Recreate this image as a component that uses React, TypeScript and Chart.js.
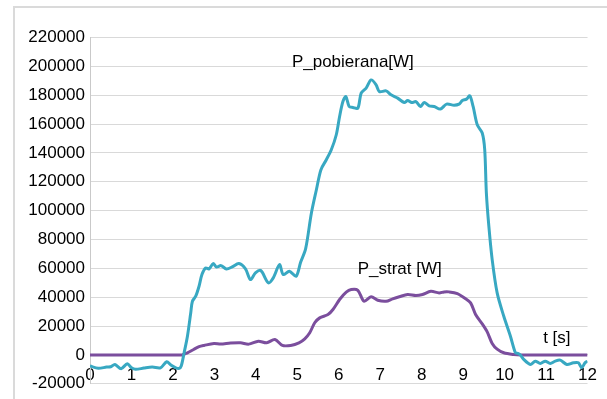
import React, { useEffect, useRef } from "react";
import { Chart, registerables } from "chart.js";

Chart.register(...registerables);

// P_pobierana[W] (teal) : time [s] and power [W]
const pobT = [
  0.0, 0.2, 0.4, 0.5, 0.6, 0.75, 0.9, 1.0, 1.1, 1.3, 1.5, 1.7, 1.85, 1.95, 2.07, 2.15, 2.2,
  2.27, 2.35, 2.43, 2.47, 2.55, 2.63, 2.7, 2.79, 2.87, 2.97, 3.05, 3.16, 3.29, 3.43, 3.59,
  3.75, 3.87, 3.99, 4.12, 4.3, 4.42, 4.57, 4.66, 4.81, 4.97, 5.08, 5.2, 5.34, 5.46, 5.57,
  5.7, 5.82, 5.94, 6.02, 6.1, 6.17, 6.25, 6.34, 6.46, 6.54, 6.66, 6.78, 6.9, 6.98, 7.14,
  7.26, 7.42, 7.58, 7.66, 7.76, 7.86, 7.97, 8.06, 8.18, 8.3, 8.45, 8.6, 8.78, 8.9, 8.98,
  9.08, 9.16, 9.24, 9.34, 9.46, 9.52, 9.56, 9.62, 9.7, 9.82, 9.98, 10.14, 10.26, 10.32,
  10.38, 10.46, 10.62, 10.74, 10.86, 10.98, 11.1, 11.22, 11.34, 11.5, 11.66, 11.78, 11.86,
  11.94, 12.0,
];
const pobV = [
  -7700, -9300, -8400, -8200, -6600, -9500, -6100, -8900, -10000, -9100, -8400, -8900, -4700,
  -7000, -8900, -9300, -7700, 1500, 13000, 29200, 37200, 40700, 47600, 55700, 60300, 59600,
  63300, 61000, 61900, 59600, 61000, 63300, 59600, 52200, 56900, 58500, 50000, 53400, 62600,
  55700, 58000, 54500, 64300, 73500, 98400, 114500, 128400, 135300, 142200, 152600, 165300,
  175600, 179100, 172200, 171500, 171000, 181400, 184900, 190600, 187200, 182500, 183000,
  180300, 178000, 174900, 176300, 174900, 175600, 172200, 174900, 172600, 172200, 170400,
  173800, 173100, 173800, 176300, 177300, 179600, 172200, 159500, 153800, 142200, 112200,
  89100, 66100, 43000, 26800, 13000, 1500, 1000, 0, -3100, -6600, -4300, -5900, -4300, -5900,
  -4300, -3600, -6600, -5400, -5400, -8900, -5400, -4300,
];

// P_strat [W] (purple) : time [s] and power [W]
const stratT = [
  0.0, 1.0, 2.0, 2.22, 2.35, 2.5, 2.63, 2.75, 2.99, 3.15, 3.39, 3.63, 3.83, 4.06, 4.26, 4.46,
  4.64, 4.84, 5.04, 5.18, 5.3, 5.42, 5.54, 5.74, 5.86, 6.02, 6.18, 6.3, 6.46, 6.61, 6.78,
  6.94, 7.14, 7.3, 7.46, 7.66, 7.86, 8.02, 8.22, 8.42, 8.54, 8.66, 8.86, 9.06, 9.18, 9.3,
  9.46, 9.58, 9.7, 9.82, 9.98, 10.22, 10.4, 11.0, 12.0,
];
const stratV = [
  0, 0, 0, 0, 1500, 3800, 5700, 6600, 8000, 7500, 8200, 8400, 7500, 9500, 8400, 10700, 6600,
  6600, 8400, 11200, 15400, 22300, 25700, 28000, 31500, 38400, 43500, 45300, 44800, 37200,
  40300, 37900, 37200, 38900, 40300, 41900, 41200, 41900, 44100, 43000, 43700, 43700, 42500,
  38900, 36100, 28000, 21500, 16000, 8000, 4000, 1500, 300, 0, 0, 0,
];

const xMin = 0;
const xMax = 12;
const xStep = 1;
const yMin = -20000;
const yMax = 220000;
const yStep = 20000;

const TEAL = "#38a8c2";
const PURPLE = "#7b4e9d";
const GRID = "#d9d9d9";

// text labels anchored in data coordinates
const notes = [
  { text: "P_pobierana[W]", x: 6.34, y: 202800 },
  { text: "P_strat [W]", x: 7.47, y: 59200 },
  { text: "t [s]", x: 11.26, y: 11400 },
];

const notesPlugin = {
  id: "notes",
  afterDatasetsDraw(chart: any) {
    const { ctx, scales } = chart;
    ctx.save();
    ctx.font = "17px 'Liberation Sans', Arial, sans-serif";
    ctx.fillStyle = "#000";
    ctx.textAlign = "center";
    ctx.textBaseline = "middle";
    for (const n of notes) {
      ctx.fillText(n.text, scales.x.getPixelForValue(n.x), scales.y.getPixelForValue(n.y));
    }
    ctx.restore();
  },
};

export default function App() {
  const ref = useRef<HTMLCanvasElement>(null);

  useEffect(() => {
    Chart.defaults.font.family = "'Liberation Sans', Arial, sans-serif";
    Chart.defaults.font.size = 17;
    Chart.defaults.color = "#000";
    const chart = new Chart(ref.current as HTMLCanvasElement, {
      type: "line",
      data: {
        datasets: [
          {
            label: "P_pobierana[W]",
            data: pobT.map((t, i) => ({ x: t, y: pobV[i] })),
            borderColor: TEAL,
            backgroundColor: TEAL,
            borderWidth: 3,
            pointRadius: 0,
            tension: 0.3,
            fill: false,
          },
          {
            label: "P_strat [W]",
            data: stratT.map((t, i) => ({ x: t, y: stratV[i] })),
            borderColor: PURPLE,
            backgroundColor: PURPLE,
            borderWidth: 3,
            pointRadius: 0,
            tension: 0.3,
            fill: false,
          },
        ],
      },
      options: {
        responsive: false,
        animation: false,
        layout: { padding: { left: 0, top: 37.5, right: 16.5, bottom: 14.5 } },
        plugins: { legend: { display: false }, tooltip: { enabled: false } },
        scales: {
          x: {
            type: "linear",
            min: xMin,
            max: xMax,
            position: { y: 0 } as any,
            grid: { display: false, drawTicks: false },
            border: { display: true, color: GRID, width: 1 },
            ticks: {
              stepSize: xStep,
              padding: 10,
              maxRotation: 0,
              autoSkip: false,
              color: "#000",
              font: { size: 17 },
              callback: (v: any) => String(v),
            },
            afterFit: (s: any) => {
              s.height = 0;
            },
          },
          y: {
            type: "linear",
            min: yMin,
            max: yMax,
            grid: { color: GRID, drawTicks: false, lineWidth: 1 },
            border: { display: true, color: "#c9c9c9", width: 1 },
            ticks: {
              stepSize: yStep,
              padding: 5,
              color: "#000",
              font: { size: 17 },
              callback: (v: any) => String(v),
            },
            afterFit: (s: any) => {
              s.width = 90;
            },
          },
        },
      },
      plugins: [notesPlugin],
    });
    return () => chart.destroy();
  }, []);

  return (
    <div
      style={{
        position: "fixed",
        left: 0,
        top: 0,
        width: 607,
        height: 399,
        overflow: "hidden",
        background: "#fff",
      }}
    >
      <div
        style={{
          position: "absolute",
          left: 13,
          top: 6,
          width: 700,
          height: 500,
          borderLeft: "2px solid #dadada",
          borderTop: "2px solid #dadada",
        }}
      />
      <canvas
        ref={ref}
        width={607}
        height={399}
        style={{ position: "absolute", left: 0, top: 0, display: "block" }}
      />
    </div>
  );
}
